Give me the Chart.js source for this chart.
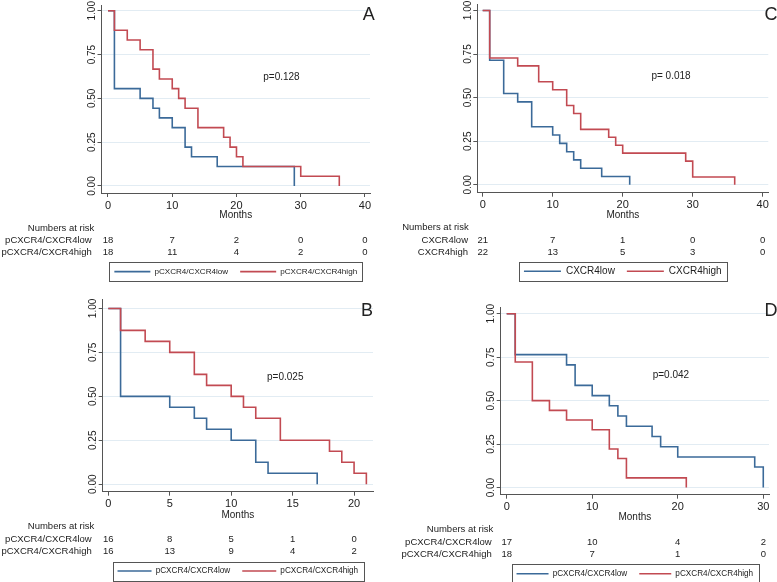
<!DOCTYPE html>
<html>
<head>
<meta charset="utf-8">
<script src="https://cdn.jsdelivr.net/npm/chart.js@4.4.1/dist/chart.umd.min.js"></script>
<style>
html, body { margin: 0; padding: 0; background: #fff; overflow: hidden; }
body { width: 777px; height: 582px; position: relative; }
.panel { position: absolute; }
</style>
</head>
<body>
<div class="panel" style="left:0;top:0;width:388px;height:290px"><canvas id="chartA"></canvas></div>
<div class="panel" style="left:388px;top:0;width:389px;height:290px"><canvas id="chartC"></canvas></div>
<div class="panel" style="left:0;top:290px;width:388px;height:310px"><canvas id="chartB"></canvas></div>
<div class="panel" style="left:388px;top:290px;width:389px;height:310px"><canvas id="chartD"></canvas></div>
<script>
// ---- data ----
const yTicks = [0, 0.25, 0.5, 0.75, 1];

// A
const aTicks = [0, 10, 20, 30, 40];
const aLowTime = [0, 1, 5, 7, 8, 10, 12, 13, 17, 29];
const aLowSurv = [1, 0.556, 0.5, 0.444, 0.389, 0.333, 0.222, 0.167, 0.111, 0];
const aHighTime = [0, 1, 3, 5, 7, 8, 10, 11, 12, 14, 18, 19, 20, 21, 30, 36];
const aHighSurv = [1, 0.889, 0.833, 0.778, 0.667, 0.611, 0.556, 0.5, 0.444, 0.333, 0.278, 0.222, 0.167, 0.111, 0.056, 0];
const aRiskLow = [18, 7, 2, 0, 0];
const aRiskHigh = [18, 11, 4, 2, 0];

// C
const cTicks = [0, 10, 20, 30, 40];
const cLowTime = [0, 1, 3, 5, 7, 10, 11, 12, 13, 14, 17, 21];
const cLowSurv = [1, 0.714, 0.524, 0.476, 0.333, 0.286, 0.238, 0.190, 0.143, 0.095, 0.048, 0];
const cHighTime = [0, 1, 5, 8, 10, 12, 13, 14, 18, 19, 20, 29, 30, 36];
const cHighSurv = [1, 0.727, 0.682, 0.591, 0.545, 0.455, 0.409, 0.318, 0.273, 0.227, 0.182, 0.136, 0.045, 0];
const cRiskLow = [21, 7, 1, 0, 0];
const cRiskHigh = [22, 13, 5, 3, 0];

// B
const bTicks = [0, 5, 10, 15, 20];
const bLowTime = [0, 1, 5, 7, 8, 10, 12, 13, 17];
const bLowSurv = [1, 0.5, 0.4375, 0.375, 0.3125, 0.25, 0.125, 0.0625, 0];
const bHighTime = [0, 1, 3, 5, 7, 8, 10, 11, 12, 14, 18, 19, 20, 21];
const bHighSurv = [1, 0.875, 0.8125, 0.75, 0.625, 0.5625, 0.5, 0.4375, 0.375, 0.25, 0.1875, 0.125, 0.0625, 0];
const bRiskLow = [16, 8, 5, 1, 0];
const bRiskHigh = [16, 13, 9, 4, 2];

// D
const dTicks = [0, 10, 20, 30];
const dLowTime = [0, 1, 7, 8, 10, 12, 13, 14, 17, 18, 20, 29, 30];
const dLowSurv = [1, 0.765, 0.706, 0.588, 0.529, 0.471, 0.412, 0.353, 0.294, 0.235, 0.176, 0.118, 0];
const dHighTime = [0, 1, 3, 5, 7, 10, 12, 13, 14, 21];
const dHighSurv = [1, 0.722, 0.5, 0.444, 0.389, 0.333, 0.222, 0.167, 0.056, 0];
const dRiskLow = [17, 10, 4, 2];
const dRiskHigh = [18, 7, 1, 0];

// ---- styling ----
const FONT = "'Liberation Sans', Arial, sans-serif";
const TEXT = "#222";
const AXIS = "#555";
const GRID = "#e2ecf3";
const BLUE = "#3b6a99";
const RED = "#c24a52";
const LEGEND_PAD = 12;

Chart.defaults.font.family = FONT;
Chart.defaults.color = TEXT;

const kmExtras = {
    id: "kmExtras",
    afterDraw: function (chart, args, opts) {
        const ctx = chart.ctx;
        const xs = chart.scales.x;
        const ys = chart.scales.y;
        const area = chart.chartArea;
        ctx.save();
        ctx.fillStyle = TEXT;
        ctx.textBaseline = "middle";

        // p value
        ctx.font = "10px " + FONT;
        ctx.textAlign = "center";
        ctx.fillText(opts.pText, xs.getPixelForValue(opts.pX), ys.getPixelForValue(opts.pY));

        // panel letter
        ctx.font = "18px " + FONT;
        ctx.fillText(opts.letter, opts.letterX, opts.letterY);

        // numbers at risk
        ctx.font = "9.5px " + FONT;
        ctx.textAlign = "right";
        ctx.fillText("Numbers at risk", opts.titleRight, area.bottom + 35);
        opts.rows.forEach((row, r) => {
            const y = area.bottom + 47.5 + r * 12;
            ctx.textAlign = "right";
            ctx.fillText(row.label, opts.labelRight, y);
            ctx.textAlign = "center";
            row.values.forEach((v, i) => {
                ctx.fillText(String(v), xs.getPixelForValue(opts.ticks[i]), y);
            });
        });

        // frame round the legend
        const hb = chart.legend.legendHitBoxes;
        if (hb && hb.length) {
            const first = hb[0];
            const last = hb[hb.length - 1];
            const cy = first.top + first.height / 2;
            ctx.strokeStyle = AXIS;
            ctx.lineWidth = 1;
            ctx.strokeRect(Math.round(first.left - 5) + 0.5, Math.round(cy - 9.5) + 0.5,
                Math.round(last.left + last.width - first.left + 10), 19);
        }
        ctx.restore();
    },
};

function points(times, surv) {
    return times.map((t, i) => ({ x: t, y: surv[i] }));
}

function makePanel(id, p) {
    const legendTop = p.legendCenter - LEGEND_PAD - p.legendFont / 2;
    const padBottom = p.height - legendTop - (2 * LEGEND_PAD + p.legendFont);
    const xHeight = legendTop - p.bottom;
    const titlePad = legendTop - p.monthsY - 6;
    return new Chart(document.getElementById(id), {
        type: "line",
        data: {
            datasets: [
                {
                    label: p.lowLabel,
                    data: points(p.lowTime, p.lowSurv),
                    borderColor: BLUE,
                    backgroundColor: BLUE,
                    order: 2,
                },
                {
                    label: p.highLabel,
                    data: points(p.highTime, p.highSurv),
                    borderColor: RED,
                    backgroundColor: RED,
                    order: 1,
                },
            ],
        },
        options: {
            responsive: true,
            maintainAspectRatio: false,
            animation: false,
            datasets: {
                line: { stepped: true, pointRadius: 0, borderWidth: 1.6, fill: false },
            },
            layout: { padding: { top: p.top, right: p.padRight, bottom: padBottom, left: 0 } },
            scales: {
                x: {
                    type: "linear",
                    min: p.xMin,
                    max: p.xMax,
                    afterBuildTicks: (s) => { s.ticks = p.ticks.map((v) => ({ value: v })); },
                    afterFit: (s) => { s.height = xHeight; },
                    grid: { drawOnChartArea: false, color: AXIS, tickColor: AXIS, tickLength: 4 },
                    border: { display: true, color: AXIS, width: 1 },
                    ticks: { color: TEXT, font: { size: 11 }, padding: 2, maxRotation: 0, autoSkip: false },
                    title: {
                        display: true,
                        text: "Months",
                        color: TEXT,
                        font: { size: 10 },
                        padding: { top: 0, bottom: titlePad },
                    },
                },
                y: {
                    type: "linear",
                    min: p.yMin,
                    max: p.yMax,
                    afterBuildTicks: (s) => { s.ticks = yTicks.map((v) => ({ value: v })); },
                    afterFit: (s) => { s.width = p.left; },
                    grid: { color: GRID, tickColor: AXIS, tickLength: 4, lineWidth: 1 },
                    border: { display: true, color: AXIS, width: 1 },
                    ticks: {
                        color: TEXT,
                        font: { size: 10 },
                        minRotation: 90,
                        maxRotation: 90,
                        crossAlign: "center",
                        padding: -4.5,
                        callback: (v) => Number(v).toFixed(2),
                    },
                },
            },
            plugins: {
                legend: {
                    position: "bottom",
                    fullSize: false,
                    labels: {
                        usePointStyle: true,
                        pointStyle: "line",
                        pointStyleWidth: p.legendLine,
                        padding: LEGEND_PAD,
                        color: TEXT,
                        font: { size: p.legendFont },
                        sort: (a, b) => a.datasetIndex - b.datasetIndex,
                    },
                },
                tooltip: { enabled: false },
                kmExtras: {
                    pText: p.pText, pX: p.pX, pY: p.pY,
                    letter: p.letter, letterX: p.letterX, letterY: p.letterY,
                    ticks: p.ticks,
                    titleRight: p.titleRight,
                    labelRight: p.labelRight,
                    rows: [
                        { label: p.lowLabel, values: p.riskLow },
                        { label: p.highLabel, values: p.riskHigh },
                    ],
                },
            },
        },
        plugins: [kmExtras],
    });
}

makePanel("chartA", {
    height: 290, left: 101.5, top: 5, bottom: 191, padRight: 18, legendCenter: 269.6, monthsY: 213,
    xMin: -1.01, xMax: 40.78, yMin: -0.04, yMax: 1.033, ticks: aTicks,
    lowTime: aLowTime, lowSurv: aLowSurv, highTime: aHighTime, highSurv: aHighSurv,
    riskLow: aRiskLow, riskHigh: aRiskHigh,
    lowLabel: "pCXCR4/CXCR4low", highLabel: "pCXCR4/CXCR4high",
    legendFont: 8.1, legendLine: 36,
    pText: "p=0.128", pX: 27.0, pY: 0.619,
    letter: "A", letterX: 368.7, letterY: 15,
    titleRight: 94.3, labelRight: 91.7,
});

makePanel("chartC", {
    height: 290, left: 89.3, top: 4.5, bottom: 190.7, padRight: 8.7, legendCenter: 269.3, monthsY: 213.3,
    xMin: -0.77, xMax: 40.8, yMin: -0.045, yMax: 1.034, ticks: cTicks,
    lowTime: cLowTime, lowSurv: cLowSurv, highTime: cHighTime, highSurv: cHighSurv,
    riskLow: cRiskLow, riskHigh: cRiskHigh,
    lowLabel: "CXCR4low", highLabel: "CXCR4high",
    legendFont: 10, legendLine: 37,
    pText: "p= 0.018", pX: 26.9, pY: 0.624,
    letter: "C", letterX: 383, letterY: 15,
    titleRight: 80.7, labelRight: 80,
});

makePanel("chartB", {
    height: 310, left: 102.7, top: 9.3, bottom: 199.7, padRight: 15, legendCenter: 279, monthsY: 223.3,
    xMin: -0.455, xMax: 21.54, yMin: -0.0425, yMax: 1.052, ticks: bTicks,
    lowTime: bLowTime, lowSurv: bLowSurv, highTime: bHighTime, highSurv: bHighSurv,
    riskLow: bRiskLow, riskHigh: bRiskHigh,
    lowLabel: "pCXCR4/CXCR4low", highLabel: "pCXCR4/CXCR4high",
    legendFont: 8.2, legendLine: 34,
    pText: "p=0.025", pX: 14.4, pY: 0.611,
    letter: "B", letterX: 367, letterY: 21,
    titleRight: 94.3, labelRight: 91.7,
});

makePanel("chartD", {
    height: 310, left: 112.7, top: 17.3, bottom: 202.7, padRight: 8, legendCenter: 281.7, monthsY: 225,
    xMin: -0.7, xMax: 30.67, yMin: -0.041, yMax: 1.037, ticks: dTicks,
    lowTime: dLowTime, lowSurv: dLowSurv, highTime: dHighTime, highSurv: dHighSurv,
    riskLow: dRiskLow, riskHigh: dRiskHigh,
    lowLabel: "pCXCR4/CXCR4low", highLabel: "pCXCR4/CXCR4high",
    legendFont: 8.2, legendLine: 32,
    pText: "p=0.042", pX: 19.2, pY: 0.648,
    letter: "D", letterX: 383, letterY: 21,
    titleRight: 105.3, labelRight: 103.7,
});
</script>
</body>
</html>
